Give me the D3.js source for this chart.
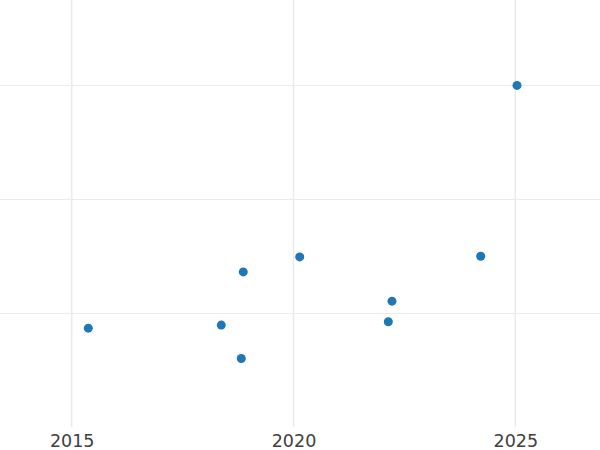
<!DOCTYPE html>
<html>
<head>
<meta charset="utf-8">
<script src="https://cdn.jsdelivr.net/npm/d3@7"></script>
<style>
  body { margin: 0; background: #fff; }
  svg { display: block; font-family: "DejaVu Sans", sans-serif; }
</style>
</head>
<body>
<svg width="600" height="450"></svg>
<script>
// data
const years  = [2015.374, 2018.372, 2018.823, 2018.868, 2020.140, 2022.137, 2022.220, 2024.220, 2025.038];
const values = [0.868, 0.895, 0.602, 1.362, 1.494, 0.924, 1.105, 1.500, 3.000];
const xTicks = [2015, 2020, 2025];
const yTicks = [1, 2, 3];

var svg = d3.select('svg'),
    width = +svg.attr('width'),
    plotBottom = 427;

var x = d3.scaleLinear().domain([2013.384, 2026.909]).range([0, width]);
var y = d3.scaleLinear().domain([0, 3.75]).range([plotBottom, 0]);

// grid
svg.append('g')
   .selectAll('line')
   .data(yTicks)
   .enter().append('line')
   .attr('x1', 0).attr('x2', width)
   .attr('y1', d => Math.round(y(d)) + 0.5)
   .attr('y2', d => Math.round(y(d)) + 0.5)
   .attr('stroke', '#ebebeb')
   .attr('stroke-width', 1);

svg.append('g')
   .selectAll('line')
   .data(xTicks)
   .enter().append('line')
   .attr('x1', d => x(d)).attr('x2', d => x(d))
   .attr('y1', 0).attr('y2', plotBottom)
   .attr('stroke', '#ebebeb')
   .attr('stroke-width', 1.5);

// x axis labels
var xAxis = svg.append('g')
   .attr('transform', 'translate(0,' + plotBottom + ')')
   .call(d3.axisBottom(x).tickValues(xTicks).tickFormat(d3.format('d')).tickSize(0));
xAxis.select('.domain').remove();
xAxis.selectAll('text')
   .attr('dy', null)
   .attr('y', 20)
   .attr('font-family', '"DejaVu Sans", sans-serif')
   .attr('font-size', 17.5)
   .attr('fill', '#404040');

// points
svg.append('g')
   .selectAll('circle')
   .data(years)
   .enter().append('circle')
   .attr('cx', (d, i) => x(d))
   .attr('cy', (d, i) => y(values[i]))
   .attr('r', 4.5)
   .attr('fill', '#1f77b4');
</script>
</body>
</html>
